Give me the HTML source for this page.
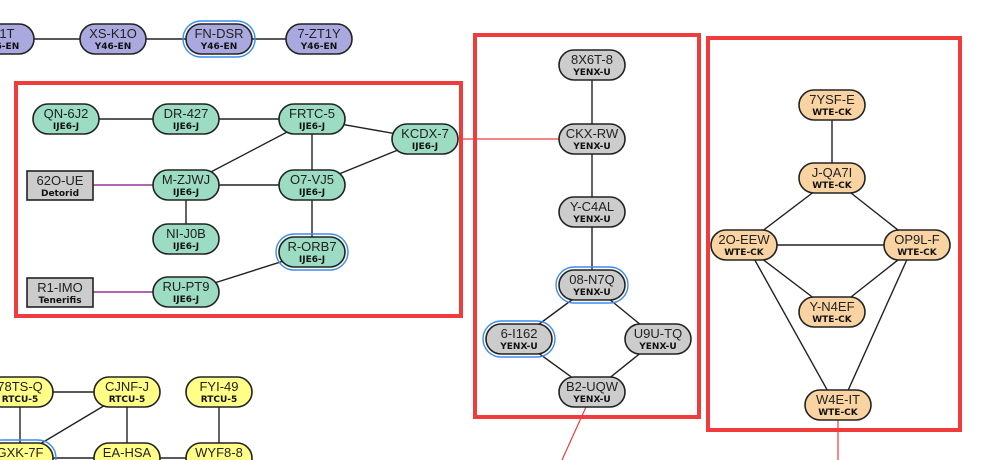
<!DOCTYPE html>
<html><head><meta charset="utf-8"><style>
html,body{margin:0;padding:0;background:#fff;}
svg{display:block;}
text{font-family:"Liberation Sans",sans-serif;text-anchor:middle;}
.n{font-size:13px;fill:#222;}
.s{font-size:9px;font-weight:bold;fill:#111;font-family:"DejaVu Sans","Liberation Sans",sans-serif;}
.e{stroke:#222;stroke-width:1.4;fill:none;}
</style></head><body>
<svg width="1000" height="460" viewBox="0 0 1000 460" xmlns="http://www.w3.org/2000/svg">
<defs>
<g id="pill"><rect x="-33" y="-15" width="66" height="30" rx="15" ry="15" stroke="#222" stroke-width="1.6"/></g>
</defs>
<rect x="16" y="83" width="445" height="233" fill="none" stroke="#f03c3c" stroke-width="4"/>
<rect x="475" y="35" width="224" height="382" fill="none" stroke="#f03c3c" stroke-width="4"/>
<rect x="708" y="38" width="252" height="392" fill="none" stroke="#f03c3c" stroke-width="4"/>
<line x1="459" y1="139" x2="559" y2="139" stroke="#f03c3c" stroke-width="1.2"/>
<line x1="586" y1="407" x2="562" y2="460" stroke="#f03c3c" stroke-width="1.2"/>
<line x1="838" y1="420" x2="838" y2="460" stroke="#f03c3c" stroke-width="1.2"/>
<g class="e">
<line x1="1" y1="39" x2="319" y2="39"/>
<line x1="66" y1="119" x2="312" y2="119"/>
<line x1="312" y1="119" x2="425" y2="139"/>
<line x1="312" y1="119" x2="186" y2="185"/>
<line x1="312" y1="119" x2="312" y2="252"/>
<line x1="425" y1="139" x2="312" y2="185"/>
<line x1="186" y1="185" x2="312" y2="185"/>
<line x1="186" y1="185" x2="186" y2="239"/>
<line x1="312" y1="252" x2="186" y2="292"/>
<line x1="592" y1="65" x2="592" y2="285"/>
<line x1="592" y1="285" x2="519" y2="339"/>
<line x1="592" y1="285" x2="658" y2="339"/>
<line x1="519" y1="339" x2="592" y2="392"/>
<line x1="658" y1="339" x2="592" y2="392"/>
<line x1="832" y1="105" x2="832" y2="178"/>
<line x1="832" y1="178" x2="744" y2="245"/>
<line x1="832" y1="178" x2="917" y2="245"/>
<line x1="744" y1="245" x2="917" y2="245"/>
<line x1="744" y1="245" x2="832" y2="312"/>
<line x1="917" y1="245" x2="832" y2="312"/>
<line x1="752" y1="255" x2="830" y2="395"/>
<line x1="909" y1="255" x2="846" y2="395"/>
<line x1="20" y1="392" x2="127" y2="392"/>
<line x1="20" y1="392" x2="20" y2="458"/>
<line x1="127" y1="392" x2="30" y2="450"/>
<line x1="127" y1="392" x2="127" y2="458"/>
<line x1="219" y1="392" x2="219" y2="458"/>
<line x1="20" y1="458" x2="219" y2="458"/>
</g>
<line x1="93" y1="185" x2="153" y2="185" stroke="#993399" stroke-width="1.4"/>
<line x1="93" y1="292" x2="153" y2="292" stroke="#993399" stroke-width="1.4"/>
<g fill="none" stroke="#3c8cf0" stroke-width="1.4">
<rect x="183" y="21" width="72" height="36" rx="18"/>
<rect x="276" y="234" width="72" height="36" rx="18"/>
<rect x="556" y="267" width="72" height="36" rx="18"/>
<rect x="483" y="321" width="72" height="36" rx="18"/>
<rect x="-16" y="440" width="72" height="36" rx="18"/>
</g>
<g fill="#a9a9df">
<use href="#pill" x="1" y="39"/><use href="#pill" x="113" y="39"/><use href="#pill" x="219" y="39"/><use href="#pill" x="319" y="39"/>
</g>
<g fill="#9bdcc2">
<use href="#pill" x="66" y="119"/><use href="#pill" x="186" y="119"/><use href="#pill" x="312" y="119"/><use href="#pill" x="425" y="139"/>
<use href="#pill" x="186" y="185"/><use href="#pill" x="312" y="185"/><use href="#pill" x="186" y="239"/><use href="#pill" x="312" y="252"/><use href="#pill" x="186" y="292"/>
</g>
<g fill="#cccccc" stroke="#222" stroke-width="1.6">
<rect x="27" y="171" width="66" height="29"/><rect x="27" y="278" width="66" height="29"/>
</g>
<g fill="#cccccc">
<use href="#pill" x="592" y="65"/><use href="#pill" x="592" y="139"/><use href="#pill" x="592" y="212"/><use href="#pill" x="592" y="285"/>
<use href="#pill" x="519" y="339"/><use href="#pill" x="658" y="339"/><use href="#pill" x="592" y="392"/>
</g>
<g fill="#f9d4a2">
<use href="#pill" x="832" y="105"/><use href="#pill" x="832" y="178"/><use href="#pill" x="744" y="245"/><use href="#pill" x="917" y="245"/>
<use href="#pill" x="832" y="312"/><use href="#pill" x="838" y="405"/>
</g>
<g fill="#ffff88">
<use href="#pill" x="20" y="392"/><use href="#pill" x="127" y="392"/><use href="#pill" x="219" y="392"/>
<use href="#pill" x="20" y="458"/><use href="#pill" x="127" y="458"/><use href="#pill" x="219" y="458"/>
</g>
<g>
<text class="n" x="1" y="38">Y-1T</text><text class="s" x="1" y="49">Y46-EN</text>
<text class="n" x="113" y="38">XS-K1O</text><text class="s" x="113" y="49">Y46-EN</text>
<text class="n" x="219" y="38">FN-DSR</text><text class="s" x="219" y="49">Y46-EN</text>
<text class="n" x="319" y="38">7-ZT1Y</text><text class="s" x="319" y="49">Y46-EN</text>

<text class="n" x="66" y="118">QN-6J2</text><text class="s" x="66" y="129">IJE6-J</text>
<text class="n" x="186" y="118">DR-427</text><text class="s" x="186" y="129">IJE6-J</text>
<text class="n" x="312" y="118">FRTC-5</text><text class="s" x="312" y="129">IJE6-J</text>
<text class="n" x="425" y="138">KCDX-7</text><text class="s" x="425" y="149">IJE6-J</text>
<text class="n" x="186" y="184">M-ZJWJ</text><text class="s" x="186" y="195">IJE6-J</text>
<text class="n" x="312" y="184">O7-VJ5</text><text class="s" x="312" y="195">IJE6-J</text>
<text class="n" x="186" y="238">NI-J0B</text><text class="s" x="186" y="249">IJE6-J</text>
<text class="n" x="312" y="251">R-ORB7</text><text class="s" x="312" y="262">IJE6-J</text>
<text class="n" x="186" y="291">RU-PT9</text><text class="s" x="186" y="302">IJE6-J</text>
<text class="n" x="60" y="185">62O-UE</text><text class="s" x="60" y="196">Detorid</text>
<text class="n" x="60" y="292">R1-IMO</text><text class="s" x="60" y="303">Tenerifis</text>

<text class="n" x="592" y="64">8X6T-8</text><text class="s" x="592" y="75">YENX-U</text>
<text class="n" x="592" y="138">CKX-RW</text><text class="s" x="592" y="149">YENX-U</text>
<text class="n" x="592" y="211">Y-C4AL</text><text class="s" x="592" y="222">YENX-U</text>
<text class="n" x="592" y="284">08-N7Q</text><text class="s" x="592" y="295">YENX-U</text>
<text class="n" x="519" y="338">6-I162</text><text class="s" x="519" y="349">YENX-U</text>
<text class="n" x="658" y="338">U9U-TQ</text><text class="s" x="658" y="349">YENX-U</text>
<text class="n" x="592" y="391">B2-UQW</text><text class="s" x="592" y="402">YENX-U</text>

<text class="n" x="832" y="104">7YSF-E</text><text class="s" x="832" y="115">WTE-CK</text>
<text class="n" x="832" y="177">J-QA7I</text><text class="s" x="832" y="188">WTE-CK</text>
<text class="n" x="744" y="244">2O-EEW</text><text class="s" x="744" y="255">WTE-CK</text>
<text class="n" x="917" y="244">OP9L-F</text><text class="s" x="917" y="255">WTE-CK</text>
<text class="n" x="832" y="311">Y-N4EF</text><text class="s" x="832" y="322">WTE-CK</text>
<text class="n" x="838" y="404">W4E-IT</text><text class="s" x="838" y="415">WTE-CK</text>

<text class="n" x="20" y="391">78TS-Q</text><text class="s" x="20" y="402">RTCU-5</text>
<text class="n" x="127" y="391">CJNF-J</text><text class="s" x="127" y="402">RTCU-5</text>
<text class="n" x="219" y="391">FYI-49</text><text class="s" x="219" y="402">RTCU-5</text>
<text class="n" x="20" y="457">GXK-7F</text>
<text class="n" x="127" y="457">EA-HSA</text>
<text class="n" x="219" y="457">WYF8-8</text>
</g>
</svg>
</body></html>
